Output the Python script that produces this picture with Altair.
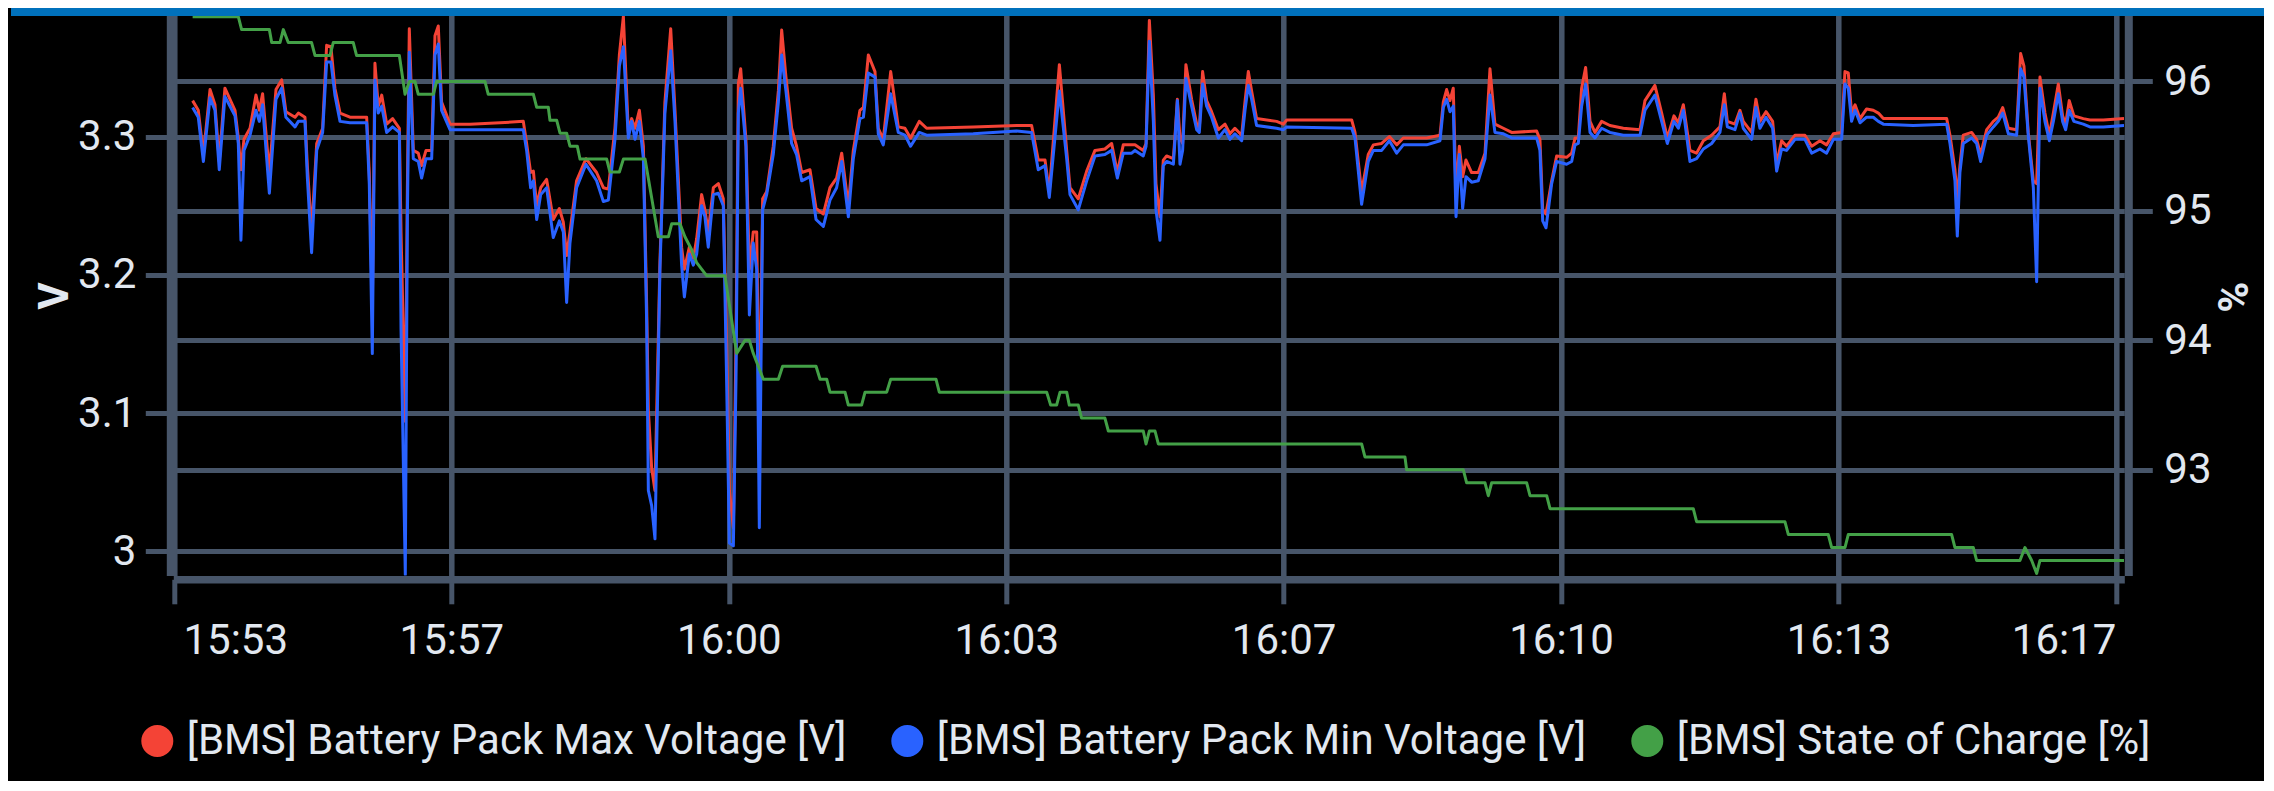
import json
import altair as alt
import pandas as pd

# ---------------- data (time = seconds after 15:53:00) ----------------
T_START = "15:53:00"

volt_time_s = [
    58.5, 62.6, 66.3, 71.1, 74.7, 77.8, 81.9, 89.2, 91.6, 93.5,
    95.7, 100.1, 104.4, 106.8, 109.2, 114.1, 118.9, 123.0, 126.1, 132.7,
    135.1, 139.9, 141.6, 144.7, 148.4, 152.7, 155.6, 158.7, 161.6, 165.3,
    172.5, 184.6, 186.5, 188.7, 190.6, 193.0, 195.5, 199.1, 203.4, 208.3,
    209.5, 212.6, 214.1, 215.5, 218.4, 222.0, 224.4, 227.6, 231.7, 234.1,
    236.5, 238.9, 245.0, 259.5,
    281.2, 298.1, 300.5, 303.4, 305.4, 307.8, 310.7, 315.0, 319.8, 324.2,
    327.1, 329.5, 331.9, 336.7, 343.5, 351.2, 356.1, 359.7, 364.5, 367.7,
    370.6, 374.2, 376.6, 379.0, 382.2, 385.1, 387.5, 388.7, 391.1, 393.5,
    397.1, 400.7, 404.9, 408.0, 412.8, 414.8, 418.4, 421.3, 423.7, 427.3,
    429.7, 432.1, 435.8, 439.4, 443.0, 445.4, 447.4, 450.3, 452.2, 453.9,
    455.6, 459.4, 461.9, 464.7, 467.2, 469.1, 471.5, 474.4, 479.2, 482.9,
    485.3, 488.4, 492.5, 496.1, 499.8, 505.8, 510.2, 515.5,
    520.3, 525.1, 528.8, 533.6, 537.2, 542.0, 544.5, 548.1, 552.9, 555.3,
    558.9, 564.3, 569.8, 574.6, 578.7, 585.0, 590.3, 624.1, 655.5, 666.4,
    671.2, 676.1, 679.2, 686.5, 691.8, 694.2, 700.2, 706.3, 712.3, 719.5,
    724.4, 728.5, 732.8, 738.9, 741.3, 747.3, 749.3, 751.7, 754.6, 756.5,
    759.4, 761.8, 764.2, 769.1, 770.3, 772.0, 773.9, 775.8, 778.2, 782.3,
    786.0, 787.9, 790.3, 793.2, 796.8, 801.7, 806.5, 810.1, 813.7, 818.6,
    821.0, 823.4, 825.8, 829.4, 843.9, 848.8, 851.2, 898.3, 900.7, 905.5,
    910.3, 914.0, 920.0, 925.6, 930.9, 935.7, 952.6, 962.3, 964.7, 967.1,
    969.5, 971.9, 973.9, 976.3, 978.7, 981.1, 985.2, 990.0, 994.9,
    998.5, 1002.1, 1008.2, 1014.2, 1032.3, 1034.7, 1036.7, 1039.1, 1043.2, 1046.8,
    1054.0, 1057.7, 1060.1, 1062.5, 1064.9, 1067.8, 1071.0, 1074.6, 1079.4, 1085.4,
    1095.1, 1107.2, 1110.8, 1118.0, 1122.9, 1127.0, 1131.8, 1135.0, 1138.6, 1143.4,
    1148.2, 1153.1, 1159.1, 1165.1, 1168.3, 1170.5, 1176.0, 1179.6, 1182.0, 1188.1,
    1191.2, 1194.1, 1198.5, 1203.3, 1206.2, 1209.8, 1213.4, 1219.5, 1226.7, 1231.6,
    1237.6, 1242.4, 1247.3, 1253.3, 1255.7, 1258.1, 1260.5, 1263.0, 1266.6, 1271.4,
    1276.2, 1279.9, 1283.5, 1305.2, 1329.4, 1331.8, 1335.4, 1337.1, 1339.0, 1341.4,
    1347.5, 1351.1, 1354.0, 1358.4, 1363.2, 1366.8, 1370.0, 1374.1, 1380.1, 1383.0,
    1385.4, 1388.5, 1392.2, 1394.6, 1397.0, 1400.6, 1403.8, 1406.7, 1410.3, 1413.4,
    1415.6, 1418.2, 1421.6, 1428.4, 1433.2, 1442.9, 1457.9,
]

volt_max = [
    3.326, 3.319, 3.287, 3.334, 3.323, 3.282, 3.335, 3.319, 3.299, 3.276,
    3.298, 3.306, 3.330, 3.319, 3.331, 3.274, 3.334, 3.341, 3.318, 3.314,
    3.317, 3.314, 3.279, 3.231, 3.295, 3.306, 3.366, 3.365, 3.335, 3.317,
    3.314, 3.314, 3.274, 3.177, 3.353, 3.322, 3.330, 3.309, 3.313, 3.306,
    3.231, 3.094, 3.263, 3.378, 3.290, 3.288, 3.279, 3.290, 3.290, 3.373,
    3.380, 3.325, 3.309, 3.309,
    3.310, 3.311, 3.295, 3.274, 3.275, 3.250, 3.263, 3.269, 3.240, 3.248,
    3.238, 3.214, 3.231, 3.268, 3.284, 3.274, 3.263, 3.262, 3.306, 3.359,
    3.387, 3.303, 3.313, 3.306, 3.319, 3.293, 3.177, 3.102, 3.060, 3.044,
    3.209, 3.325, 3.378, 3.319, 3.220, 3.204, 3.220, 3.212, 3.226, 3.258,
    3.247, 3.231, 3.263, 3.266, 3.255, 3.151, 3.044, 3.017, 3.151, 3.338,
    3.349, 3.298, 3.204, 3.231, 3.231, 3.084, 3.255, 3.260, 3.293, 3.333,
    3.377, 3.343, 3.306, 3.293, 3.274, 3.276, 3.248, 3.244,
    3.263, 3.270, 3.288, 3.250, 3.290, 3.319, 3.321, 3.359, 3.347, 3.306,
    3.298, 3.347, 3.307, 3.306, 3.299, 3.311, 3.306, 3.307, 3.308, 3.308,
    3.283, 3.283, 3.260, 3.352, 3.290, 3.263, 3.255, 3.275, 3.290, 3.291,
    3.295, 3.274, 3.294, 3.294, 3.294, 3.290, 3.295, 3.384, 3.330, 3.266,
    3.242, 3.283, 3.286, 3.284, 3.301, 3.327, 3.299, 3.295, 3.352, 3.327,
    3.309, 3.306, 3.347, 3.326, 3.318, 3.305, 3.309, 3.302, 3.306, 3.301,
    3.325, 3.347, 3.333, 3.313, 3.311, 3.309, 3.312, 3.312, 3.303, 3.260,
    3.287, 3.294, 3.295, 3.300, 3.294, 3.299, 3.299, 3.301, 3.325, 3.334,
    3.326, 3.335, 3.258, 3.293, 3.271, 3.283, 3.274, 3.274, 3.288,
    3.349, 3.309, 3.306, 3.303, 3.304, 3.298, 3.247, 3.244, 3.268, 3.286,
    3.285, 3.288, 3.299, 3.299, 3.335, 3.350, 3.311, 3.303, 3.311, 3.308,
    3.306, 3.305, 3.326, 3.337, 3.317, 3.299, 3.315, 3.310, 3.323, 3.290,
    3.288, 3.297, 3.301, 3.307, 3.331, 3.311, 3.309, 3.319, 3.311, 3.303,
    3.327, 3.311, 3.318, 3.311, 3.280, 3.297, 3.293, 3.301, 3.301, 3.293,
    3.297, 3.294, 3.302, 3.303, 3.347, 3.346, 3.317, 3.323, 3.313, 3.320,
    3.319, 3.317, 3.313, 3.313, 3.313, 3.301, 3.276, 3.255, 3.279, 3.301,
    3.303, 3.298, 3.287, 3.305, 3.311, 3.314, 3.321, 3.306, 3.305, 3.360,
    3.351, 3.303, 3.268, 3.266, 3.343, 3.317, 3.301, 3.317, 3.338, 3.315,
    3.309, 3.326, 3.315, 3.313, 3.312, 3.312, 3.313,
]

volt_min = [
    3.321, 3.314, 3.282, 3.328, 3.319, 3.276, 3.329, 3.315, 3.295, 3.225,
    3.290, 3.301, 3.319, 3.311, 3.323, 3.259, 3.327, 3.335, 3.314, 3.307,
    3.311, 3.311, 3.271, 3.216, 3.290, 3.303, 3.354, 3.354, 3.330, 3.311,
    3.310, 3.310, 3.266, 3.143, 3.341, 3.317, 3.322, 3.303, 3.307, 3.303,
    3.161, 2.983, 3.242, 3.361, 3.284, 3.282, 3.270, 3.284, 3.284, 3.359,
    3.367, 3.319, 3.305, 3.305,
    3.305, 3.305, 3.290, 3.263, 3.268, 3.240, 3.258, 3.263, 3.227, 3.239,
    3.231, 3.180, 3.223, 3.263, 3.280, 3.268, 3.253, 3.254, 3.298, 3.351,
    3.365, 3.299, 3.311, 3.298, 3.311, 3.284, 3.164, 3.044, 3.033, 3.009,
    3.204, 3.317, 3.362, 3.311, 3.207, 3.184, 3.215, 3.207, 3.215, 3.250,
    3.242, 3.220, 3.258, 3.259, 3.250, 3.124, 3.006, 3.004, 3.124, 3.317,
    3.335, 3.293, 3.171, 3.223, 3.204, 3.017, 3.247, 3.258, 3.287, 3.325,
    3.359, 3.333, 3.295, 3.287, 3.268, 3.271, 3.240, 3.235,
    3.254, 3.263, 3.282, 3.242, 3.284, 3.313, 3.314, 3.346, 3.343, 3.302,
    3.294, 3.331, 3.303, 3.301, 3.293, 3.303, 3.301, 3.302, 3.304, 3.303,
    3.276, 3.279, 3.256, 3.333, 3.284, 3.258, 3.247, 3.268, 3.286, 3.287,
    3.290, 3.270, 3.288, 3.288, 3.290, 3.286, 3.293, 3.369, 3.311, 3.247,
    3.225, 3.279, 3.282, 3.280, 3.298, 3.326, 3.280, 3.290, 3.342, 3.322,
    3.305, 3.303, 3.338, 3.322, 3.314, 3.299, 3.305, 3.298, 3.302, 3.297,
    3.319, 3.337, 3.327, 3.308, 3.306, 3.305, 3.307, 3.306, 3.299, 3.251,
    3.282, 3.290, 3.290, 3.297, 3.288, 3.294, 3.294, 3.297, 3.321, 3.327,
    3.318, 3.322, 3.242, 3.287, 3.248, 3.271, 3.267, 3.268, 3.284,
    3.330, 3.303, 3.302, 3.299, 3.299, 3.290, 3.239, 3.234, 3.266, 3.282,
    3.280, 3.282, 3.294, 3.295, 3.322, 3.338, 3.303, 3.299, 3.306, 3.303,
    3.301, 3.301, 3.319, 3.330, 3.311, 3.295, 3.311, 3.306, 3.319, 3.282,
    3.284, 3.291, 3.295, 3.303, 3.323, 3.307, 3.305, 3.317, 3.306, 3.298,
    3.321, 3.306, 3.314, 3.306, 3.275, 3.291, 3.290, 3.298, 3.298, 3.288,
    3.291, 3.288, 3.298, 3.298, 3.338, 3.335, 3.311, 3.319, 3.310, 3.314,
    3.314, 3.311, 3.309, 3.308, 3.309, 3.295, 3.268, 3.228, 3.274, 3.295,
    3.299, 3.295, 3.282, 3.301, 3.307, 3.311, 3.317, 3.302, 3.301, 3.349,
    3.343, 3.301, 3.263, 3.195, 3.335, 3.311, 3.297, 3.311, 3.331, 3.311,
    3.305, 3.319, 3.311, 3.309, 3.307, 3.307, 3.308,
]

soc_time_s = [
    58.5, 91.6, 94.0, 114.1, 115.8, 121.8, 124.2, 127.8, 144.7, 147.2,
    158.0, 160.4, 174.9, 177.3, 208.3, 212.4, 215.5, 219.6, 222.0, 232.9,
    235.3, 270.3, 272.7, 305.4, 307.8, 316.2, 317.4, 322.3, 324.7, 329.5,
    331.9, 337.2, 339.2, 358.5, 360.9, 367.7, 370.6, 386.3, 395.9, 403.2,
    405.6, 411.6, 415.2, 420.1, 423.7, 430.9, 444.2, 452.7, 458.7, 461.9,
    464.7, 472.0, 482.9, 486.0, 510.2, 513.1, 517.9, 520.3, 531.2, 533.6,
    543.2, 545.7, 561.4, 564.3, 597.1, 599.5, 677.3, 680.2, 684.5, 687.0,
    691.8, 693.7, 700.2, 702.6, 719.5, 722.0, 747.3, 749.3, 751.7, 755.8,
    758.2, 905.5, 907.9, 936.9, 938.1, 979.2, 981.6, 994.9, 997.3, 999.7,
    1025.1, 1027.5, 1039.6, 1042.0, 1145.8, 1148.2, 1212.2, 1214.7, 1243.6, 1246.1,
    1255.7, 1258.1, 1333.0, 1335.4, 1348.7, 1351.1, 1382.5, 1386.1, 1391.0, 1394.6,
    1397.0, 1457.9,
]

soc_pct = [
    96.5, 96.5, 96.4, 96.4, 96.3, 96.3, 96.4, 96.3, 96.3, 96.2,
    96.2, 96.3, 96.3, 96.2, 96.2, 95.9, 96.0, 96.0, 95.9, 95.9,
    96.0, 96.0, 95.9, 95.9, 95.8, 95.8, 95.7, 95.7, 95.6, 95.6,
    95.5, 95.5, 95.4, 95.4, 95.3, 95.3, 95.4, 95.4, 94.8, 94.8,
    94.9, 94.9, 94.8, 94.7, 94.6, 94.5, 94.5, 93.9, 94.0, 94.0,
    93.9, 93.7, 93.7, 93.8, 93.8, 93.7, 93.7, 93.6, 93.6, 93.5,
    93.5, 93.6, 93.6, 93.7, 93.7, 93.6, 93.6, 93.5, 93.5, 93.6,
    93.6, 93.5, 93.5, 93.4, 93.4, 93.3, 93.3, 93.2, 93.3, 93.3,
    93.2, 93.2, 93.1, 93.1, 93.0, 93.0, 92.9, 92.9, 92.8, 92.9,
    92.9, 92.8, 92.8, 92.7, 92.7, 92.6, 92.6, 92.5, 92.5, 92.4,
    92.4, 92.5, 92.5, 92.4, 92.4, 92.3, 92.3, 92.4, 92.3, 92.2,
    92.3, 92.3,
]

series_names = [
    "[BMS] Battery Pack Max Voltage [V]",
    "[BMS] Battery Pack Min Voltage [V]",
    "[BMS] State of Charge [%]",
]
series_colors = ["#f44336", "#2962ff", "#43a047"]

x_tick_s = [45, 246, 447, 648, 849, 1050, 1251, 1452]
x_tick_labels = ["15:53", "15:57", "16:00", "16:03", "16:07", "16:10", "16:13", "16:17"]
v_ticks = [3.0, 3.1, 3.2, 3.3]
soc_ticks = [93, 94, 95, 96]

# ---------------- frames ----------------
max_df = pd.DataFrame({"t": volt_time_s, "value": volt_max, "series": series_names[0]})
min_df = pd.DataFrame({"t": volt_time_s, "value": volt_min, "series": series_names[1]})
soc_df = pd.DataFrame({"t": soc_time_s, "value": soc_pct, "series": series_names[2]})
bar_df = pd.DataFrame({"k": [0]})

# ---------------- style ----------------
GRID = "#475569"
TEXT = "#e2e8f0"
FONT = "Roboto"
FS = 42
W, H = 1951, 567.5

label_expr = f"{json.dumps(x_tick_labels)}[indexof({json.dumps(x_tick_s)}, datum.value)]"
first_test = f"datum.value == {x_tick_s[0]}"
last_test = f"datum.value == {x_tick_s[-1]}"

x_enc = alt.X(
    "t:Q",
    scale=alt.Scale(domain=[44.5, 1458.1], nice=False, zero=False),
    axis=alt.Axis(
        orient="bottom", values=x_tick_s, labelExpr=label_expr, title=None,
        domainColor=GRID, domainWidth=7.6, offset=3.8,
        tickColor=GRID, tickWidth=5, tickSize=24.5,
        grid=True, gridColor=GRID, gridWidth=5.5,
        labelColor=TEXT, labelFont=FONT, labelFontSize=FS, labelPadding=16.6,
        labelOverlap=False,
        labelAlign={"condition": [{"test": first_test, "value": "left"},
                                  {"test": last_test, "value": "right"}],
                    "value": "center"},
        labelOffset={"condition": {"test": first_test, "value": 9}, "value": 0},
    ),
)

y_volt = alt.Y(
    "value:Q",
    scale=alt.Scale(domain=[2.9825, 3.3930], nice=False, zero=False),
    axis=alt.Axis(
        orient="left", values=v_ticks, format=".1~f", title="V",
        titleAngle=270, titleFont=FONT, titleFontSize=FS, titleFontWeight="bold",
        titleColor=TEXT, titleX=-117, titleY=287.5, titleAlign="center",
        titleBaseline="middle",
        domainColor=GRID, domainWidth=10, offset=2,
        tickColor=GRID, tickWidth=5, tickSize=26,
        grid=True, gridColor=GRID, gridWidth=5,
        labelColor=TEXT, labelFont=FONT, labelFontSize=FS, labelPadding=9.5,
    ),
)

y_soc = alt.Y(
    "value:Q",
    scale=alt.Scale(domain=[92.184, 96.567], nice=False, zero=False),
    axis=alt.Axis(
        orient="right", values=soc_ticks, format="d", title="%",
        titleAngle=90, titleFont=FONT, titleFontSize=FS, titleFontWeight="bold",
        titleColor=TEXT, titleX=102.3, titleY=288.5, titleAlign="center",
        titleBaseline="middle",
        domainColor=GRID, domainWidth=8, offset=4,
        tickColor=GRID, tickWidth=5, tickSize=24,
        grid=True, gridColor=GRID, gridWidth=5,
        labelColor=TEXT, labelFont=FONT, labelFontSize=FS, labelPadding=11.5,
    ),
)

color_enc = alt.Color(
    "series:N",
    scale=alt.Scale(domain=series_names, range=series_colors),
    legend=alt.Legend(
        orient="none", legendX=-37, legendY=712, direction="horizontal",
        title=None, symbolType="circle", symbolSize=256, symbolStrokeWidth=16,
        symbolOpacity=1, labelFont=FONT, labelFontSize=FS, labelColor=TEXT,
        labelLimit=2000, labelOffset=8.5, columnPadding=20,
    ),
)

line_kw = dict(strokeWidth=3, strokeJoin="round", clip=True)

red = alt.Chart(max_df).mark_line(**line_kw).encode(x=x_enc, y=y_volt, color=color_enc)
blue = alt.Chart(min_df).mark_line(**line_kw).encode(x=x_enc, y=y_volt, color=color_enc)
green = alt.Chart(soc_df).mark_line(**line_kw).encode(x=x_enc, y=y_soc, color=color_enc)

top_bar = alt.Chart(bar_df).mark_rect(color="#0071bc").encode(
    x=alt.value(-162.3), x2=alt.value(2200), y=alt.value(0), y2=alt.value(8)
)

chart = (
    alt.layer(alt.layer(red, blue), green, top_bar)
    .resolve_scale(y="independent")
    .properties(
        width=W, height=H,
        autosize=alt.AutoSizeParams(type="none"),
        padding={"left": 165.3, "top": 0, "right": 140, "bottom": 205},
    )
    .configure(background="#000000")
    .configure_view(strokeWidth=0)
)

chart.save("out.html", embed_options={"renderer": "svg", "actions": False})
